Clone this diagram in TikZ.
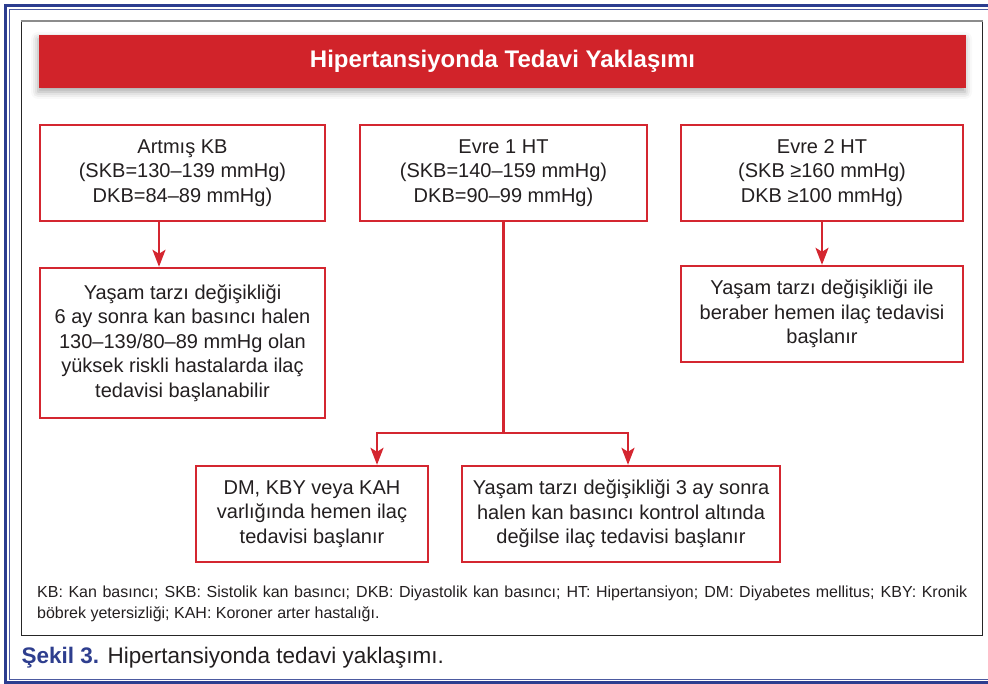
\documentclass[tikz,border=0pt]{standalone}
\usepackage{fontspec}
\setmainfont{Liberation Sans}
\usetikzlibrary{arrows.meta, positioning, calc, shadows.blur}

\definecolor{barred}{HTML}{D1232A}
\definecolor{boxred}{HTML}{D42630}
\definecolor{bordblue}{HTML}{2C3D8F}
\definecolor{capblue}{HTML}{2E3E8E}
\definecolor{textdark}{HTML}{231F20}

\begin{document}
\begin{tikzpicture}[x=1pt, y=-1pt, >={Stealth[length=17pt, width=13pt, inset=4pt]}, line join=miter]
	\useasboundingbox (0,0) rectangle (988,684);
	
	%======================
	% STYLES
	%======================
	\tikzset{
		titlebar/.style={fill=barred, minimum width=927pt, minimum height=53pt, inner sep=0pt,
			text=white, font=\fontsize{24}{28}\selectfont\bfseries,
			blur shadow={shadow xshift=-1pt, shadow yshift=-4pt, shadow blur radius=7pt, shadow opacity=35}},
		flowbox/.style={draw=boxred, line width=2.4pt, fill=white, inner sep=0pt, align=center,
			text=textdark, font=\fontsize{20}{24.5}\selectfont},
		link/.style={draw=boxred, line width=2.4pt},
		note/.style={text width=930pt, inner sep=0pt, align=justify, text=textdark,
			font=\fontsize{16}{21}\selectfont},
		caption/.style={inner sep=0pt, text=textdark, font=\fontsize{22.5}{26}\selectfont}
	}
	
	% page frame
	\draw[bordblue, line width=3.6pt] (5.5,5.5) rectangle (993,682.5);
	\draw[bordblue!85, line width=1pt] (9.5,9.5) rectangle (990,679.3);
	\draw[black!85, line width=1.2pt] (21.3,21) -- (21.3,635.3) -- (982.3,635.3) -- (982.3,21);
	\draw[gray!90, line width=1.8pt] (20.7,21.3) -- (982.9,21.3);
	
	% title
	\node[titlebar] (title) at (502.5,61.5) {Hipertansiyonda Tedavi Yaklaşımı};
	
	% stage boxes
	\node[flowbox, minimum width=285pt, minimum height=96pt] (artmis) at (182.5,173)
		{Artmış KB\\(SKB=130–139 mmHg)\\DKB=84–89 mmHg)};
	\node[flowbox, minimum width=287pt, minimum height=96pt] (evre1) at (503.5,173)
		{Evre 1 HT\\(SKB=140–159 mmHg)\\DKB=90–99 mmHg)};
	\node[flowbox, minimum width=282pt, minimum height=96pt] (evre2) at (822,173)
		{Evre 2 HT\\(SKB ≥160 mmHg)\\DKB ≥100 mmHg)};
	
	% treatment boxes
	\node[flowbox, minimum width=285pt, minimum height=150pt] (yasamA) at (182.5,343)
		{Yaşam tarzı değişikliği\\6 ay sonra kan basıncı halen\\130–139/80–89 mmHg olan\\yüksek riskli hastalarda ilaç\\tedavisi başlanabilir};
	\node[flowbox, minimum width=282pt, minimum height=96pt] (yasamC) at (822,314)
		{Yaşam tarzı değişikliği ile\\beraber hemen ilaç tedavisi\\başlanır};
	\node[flowbox, minimum width=232pt, minimum height=96pt] (dm) at (312,514)
		{DM, KBY veya KAH\\varlığında hemen ilaç\\tedavisi başlanır};
	\node[flowbox, minimum width=318pt, minimum height=96pt] (yasamE) at (621,514)
		{Yaşam tarzı değişikliği 3 ay sonra\\halen kan basıncı kontrol altında\\değilse ilaç tedavisi başlanır};
	
	% connectors
	\coordinate (aA) at (159,0);
	\coordinate (split) at (503.5,433);
	\coordinate (splitL) at (377,433);
	\coordinate (splitR) at (628,433);
	
	\draw[link,->] (artmis.south -| aA) -- (yasamA.north -| aA);
	\draw[link,->] (evre2.south) -- (yasamC.north);
	\draw[link] (evre1.south) -- (split);
	\draw[link,->] (split) -| (splitL |- dm.north);
	\draw[link,->] (split) -| (splitR |- yasamE.north);
	
	% abbreviations and caption
	\node[note, anchor=base west] (abbr) at (37,597)
		{KB: Kan basıncı; SKB: Sistolik kan basıncı; DKB: Diyastolik kan basıncı; HT: Hipertansiyon; DM: Diyabetes mellitus; KBY: Kronik\linebreak böbrek yetersizliği; KAH: Koroner arter hastalığı.};
	\node[caption, anchor=base west] (cap) at (21.5,663)
		{\textcolor{capblue}{\bfseries Şekil 3.} Hipertansiyonda tedavi yaklaşımı.};
\end{tikzpicture}
\end{document}
